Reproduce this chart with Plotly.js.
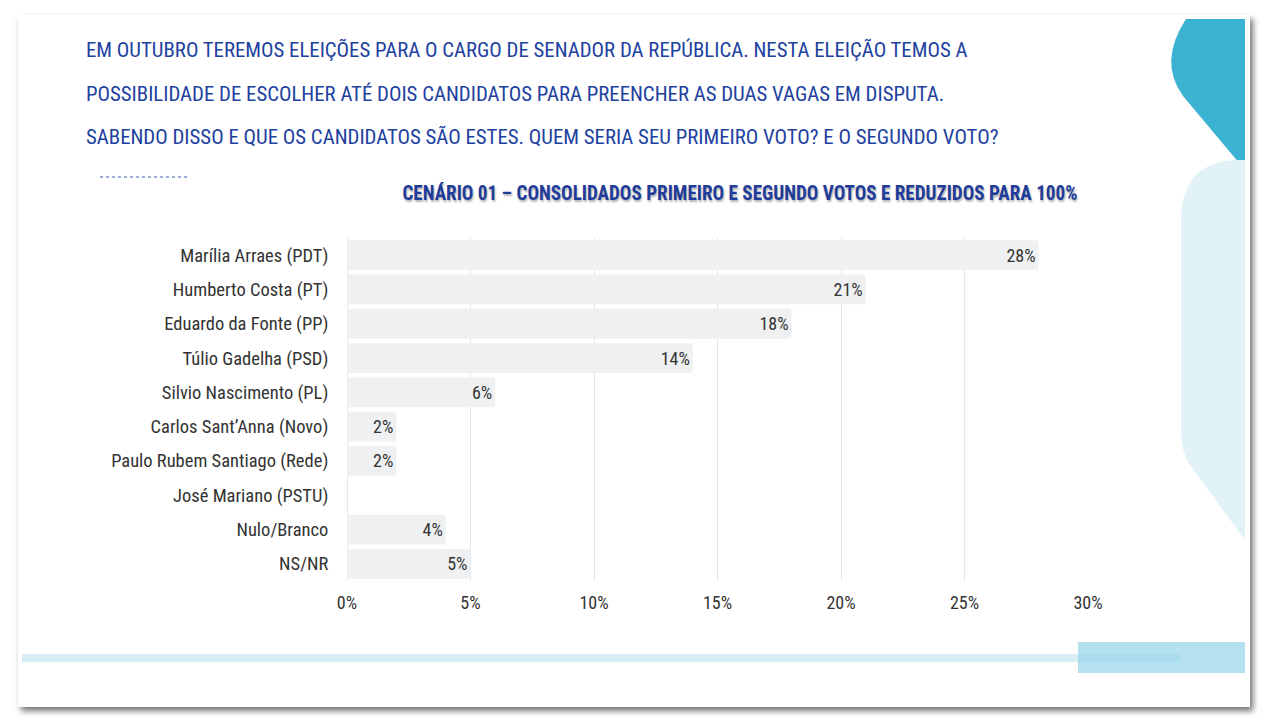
<!DOCTYPE html>
<html><head><meta charset="utf-8">
<script src="https://cdn.plot.ly/plotly-3.0.1.min.js"></script>
<style>
html,body{margin:0;padding:0;background:#fff;}
#wrap{position:relative;width:1274px;height:726px;overflow:hidden;background:#fff;}
#slide{position:absolute;left:18px;top:15px;width:1232px;height:692px;background:#fff;box-shadow:3px 4px 6px rgba(0,0,0,0.55);}
#chart{position:absolute;left:0;top:0;width:1274px;height:726px;}
text{font-stretch:75% !important;}
</style></head>
<body><div id="wrap"><div id="slide"></div><div id="chart"></div></div>
<script>
const categories = ["Marília Arraes (PDT)","Humberto Costa (PT)","Eduardo da Fonte (PP)","Túlio Gadelha (PSD)","Silvio Nascimento (PL)","Carlos Sant’Anna (Novo)","Paulo Rubem Santiago (Rede)","José Mariano (PSTU)","Nulo/Branco","NS/NR"];
const values = [28,21,18,14,6,2,2,0,4,5];
const valueLabels = ["28%","21%","18%","14%","6%","2%","2%","","4%","5%"];
const tickVals = [0,5,10,15,20,25,30];
const tickText = ["0%","5%","10%","15%","20%","25%","30%"];
const questionLines = [
 "EM OUTUBRO TEREMOS ELEIÇÕES PARA O CARGO DE SENADOR DA REPÚBLICA. NESTA ELEIÇÃO TEMOS A",
 "POSSIBILIDADE DE ESCOLHER ATÉ DOIS CANDIDATOS PARA PREENCHER AS DUAS VAGAS EM DISPUTA.",
 "SABENDO DISSO E QUE OS CANDIDATOS SÃO ESTES. QUEM SERIA SEU PRIMEIRO VOTO? E O SEGUNDO VOTO?"
];
const chartTitle = "CENÁRIO 01 – CONSOLIDADOS PRIMEIRO E SEGUNDO VOTOS E REDUZIDOS PARA 100%";

const FONT = "Roboto, sans-serif";
const L=347,R=1088,T=238,B=581;
const px=x=>(x-L)/(R-L), py=y=>(B-y)/(B-T);

const anns = [];
const lineY=[50,94,137];
questionLines.forEach((t,i)=>anns.push({text:t,xref:'paper',yref:'paper',x:px(84),y:py(lineY[i]),xanchor:'left',yanchor:'middle',showarrow:false,font:{family:FONT,size:20.8,color:'#2141a0'}}));
anns.push({text:'<b>'+chartTitle+'</b>',xref:'paper',yref:'paper',x:px(740),y:py(193),xanchor:'center',yanchor:'middle',showarrow:false,font:{family:FONT,size:21,color:'#1f3c9a',shadow:'1px 2px 2px rgba(0,0,0,0.3)'}});

const shapes = [
 {type:'path',xref:'paper',yref:'paper',layer:'below',path:`M ${px(1186)} ${py(19)} L ${px(1245)} ${py(19)} L ${px(1245)} ${py(170)} L ${px(1183)} ${py(96)} Q ${px(1158)} ${py(62)} ${px(1186)} ${py(19)} Z`,fillcolor:'#3cb2d3',line:{width:0}},
 {type:'path',xref:'paper',yref:'paper',layer:'below',path:`M ${px(1245)} ${py(160)} L ${px(1245)} ${py(540)} L ${px(1190)} ${py(465)} Q ${px(1181)} ${py(452)} ${px(1181)} ${py(430)} L ${px(1181)} ${py(222)} Q ${px(1181)} ${py(160)} ${px(1240)} ${py(160)} Z`,fillcolor:'#e2f3f8',line:{width:0}},
 {type:'rect',xref:'paper',yref:'paper',layer:'below',x0:px(22),x1:px(1180),y0:py(654),y1:py(662),fillcolor:'#d8eef6',line:{width:0}},
 {type:'rect',xref:'paper',yref:'paper',layer:'below',x0:px(1078),x1:px(1245),y0:py(642),y1:py(673),fillcolor:'rgba(150,212,232,0.7)',line:{width:0}},
 {type:'line',xref:'paper',yref:'paper',x0:px(100),x1:px(187),y0:py(177),y1:py(177),line:{color:'#3b5fb0',width:1,dash:'dot'}}
];

Plotly.newPlot('chart',[{
  type:'bar',orientation:'h',y:categories,x:values,text:valueLabels,
  textposition:'inside',insidetextanchor:'end',textangle:0,
  textfont:{family:FONT,size:18,color:'#333'},
  marker:{color:'#eef0f1',cornerradius:3},hoverinfo:'skip',cliponaxis:false
}],{
  width:1274,height:726,paper_bgcolor:'rgba(0,0,0,0)',plot_bgcolor:'rgba(0,0,0,0)',
  margin:{l:L,r:1274-R,t:T,b:726-B,pad:0},showlegend:false,bargap:0.13,
  xaxis:{range:[0,30],tickvals:tickVals,ticktext:tickText,showgrid:true,gridcolor:'#e6e6e6',zeroline:true,zerolinecolor:'#e6e6e6',showline:false,ticks:'outside',ticklen:5,tickcolor:'rgba(0,0,0,0)',tickfont:{family:FONT,size:18,color:'#333'},fixedrange:true},
  yaxis:{autorange:'reversed',showgrid:false,zeroline:false,showline:false,ticks:'outside',ticklen:14,tickcolor:'rgba(0,0,0,0)',tickfont:{family:FONT,size:18.5,color:'#333'},fixedrange:true},
  annotations:anns,shapes:shapes
},{displayModeBar:false,staticPlot:true}).then(gd=>{
  const texts = gd.querySelectorAll('.annotation-text');
  const sub = texts[texts.length-1];
  if(sub){ sub.setAttribute('textLength','675'); sub.setAttribute('lengthAdjust','spacingAndGlyphs'); }
});
</script></body></html>
